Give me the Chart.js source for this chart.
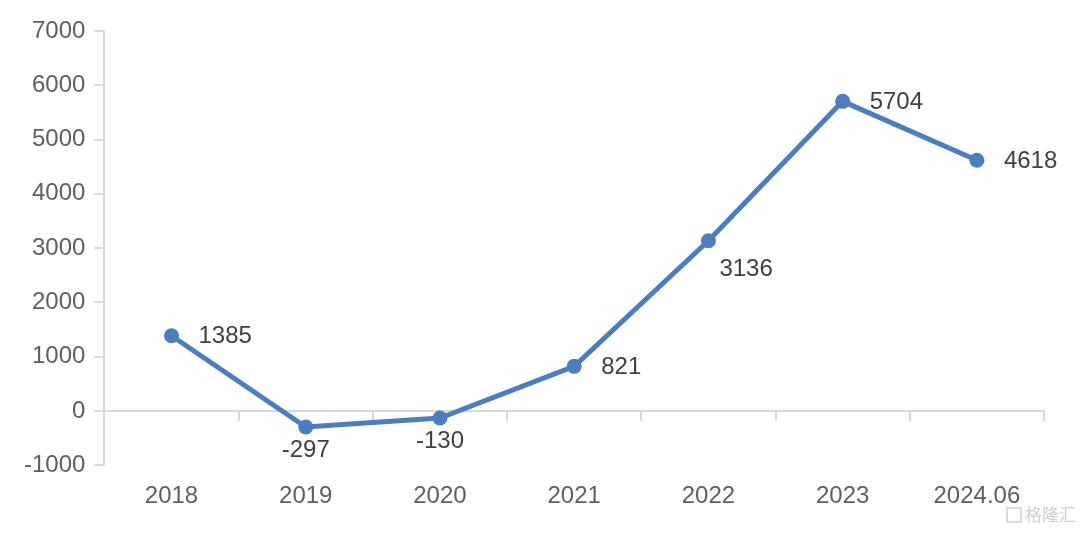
<!DOCTYPE html>
<html lang="zh">
<head>
  <meta charset="UTF-8" />
  <title>2018-2024.06</title>
  <script src="https://cdn.jsdelivr.net/npm/chart.js"></script>
  <style>
    html, body { margin: 0; padding: 0; background: #fff; }
    #wrap { width: 1080px; height: 534px; position: relative; }
  </style>
</head>
<body>
  <div id="wrap">
    <canvas id="lineChart"></canvas>
  </div>

<script>
const years = ['2018', '2019', '2020', '2021', '2022', '2023', '2024.06'];
const values = [1385, -297, -130, 821, 3136, 5704, 4618];
const yMin = -1000;
const yMax = 7000;
const yStep = 1000;

const lineColor = '#4a7ec0';
const axisColor = '#d9d9d9';
const font = '"Liberation Sans", Arial, sans-serif';

// where each value label sits relative to its point
const labelSide = ['right', 'below', 'below', 'right', 'belowRight', 'right', 'right'];

const valueLabels = {
  id: 'valueLabels',
  afterDatasetsDraw(chart) {
    const ctx = chart.ctx;
    const meta = chart.getDatasetMeta(0);
    ctx.save();
    ctx.font = '24px ' + font;
    ctx.fillStyle = '#404040';
    meta.data.forEach((pt, i) => {
      const txt = String(values[i]);
      const side = labelSide[i];
      if (side === 'right') {
        ctx.textAlign = 'left';
        ctx.textBaseline = 'middle';
        ctx.fillText(txt, pt.x + 27, pt.y + 1);
      } else if (side === 'below') {
        ctx.textAlign = 'center';
        ctx.textBaseline = 'middle';
        ctx.fillText(txt, pt.x, pt.y + 23);
      } else {
        ctx.textAlign = 'left';
        ctx.textBaseline = 'middle';
        ctx.fillText(txt, pt.x + 11, pt.y + 29);
      }
    });
    ctx.restore();
  }
};

const watermark = {
  id: 'watermark',
  afterDraw(chart) {
    const ctx = chart.ctx;
    ctx.save();
    ctx.strokeStyle = '#cfcfcf';
    ctx.lineWidth = 1.5;
    ctx.strokeRect(1007, 508, 14, 14);
    ctx.fillStyle = '#cfcfcf';
    ctx.font = '17px "Noto Sans CJK SC"';
    ctx.textAlign = 'left';
    ctx.textBaseline = 'middle';
    ctx.fillText('格隆汇', 1025, 515);
    ctx.restore();
  }
};

const ctx = document.getElementById('lineChart').getContext('2d');

new Chart(ctx, {
  type: 'line',
  data: {
    labels: years,
    datasets: [{
      data: values,
      borderColor: lineColor,
      backgroundColor: lineColor,
      borderWidth: 5,
      pointRadius: 7.5,
      pointHoverRadius: 7.5,
      pointBorderWidth: 0,
      tension: 0,
      clip: false
    }]
  },
  options: {
    responsive: true,
    maintainAspectRatio: false,
    animation: false,
    layout: {
      padding: { top: 31, right: 36, bottom: 14, left: 15 }
    },
    plugins: {
      legend: { display: false },
      tooltip: { enabled: false }
    },
    scales: {
      x: {
        type: 'category',
        offset: true,
        grid: { display: false },
        border: { display: false },
        ticks: {
          color: '#5f5f5f',
          font: { family: font, size: 24 },
          padding: 9,
          maxRotation: 0
        }
      },
      xZero: {
        type: 'category',
        position: { y: 0 },
        offset: true,
        grid: {
          offset: true,
          drawOnChartArea: false,
          drawTicks: true,
          tickLength: 9,
          color: axisColor,
          lineWidth: 2
        },
        border: { display: true, color: axisColor, width: 2 },
        ticks: { display: false }
      },
      y: {
        min: yMin,
        max: yMax,
        grid: {
          drawOnChartArea: false,
          drawTicks: true,
          tickLength: 10,
          color: axisColor,
          lineWidth: 2
        },
        border: { display: true, color: axisColor, width: 2 },
        ticks: {
          stepSize: yStep,
          color: '#5f5f5f',
          font: { family: font, size: 24 },
          padding: 9,
          callback: v => String(v)
        }
      }
    }
  },
  plugins: [valueLabels, watermark]
});
</script>
</body>
</html>
